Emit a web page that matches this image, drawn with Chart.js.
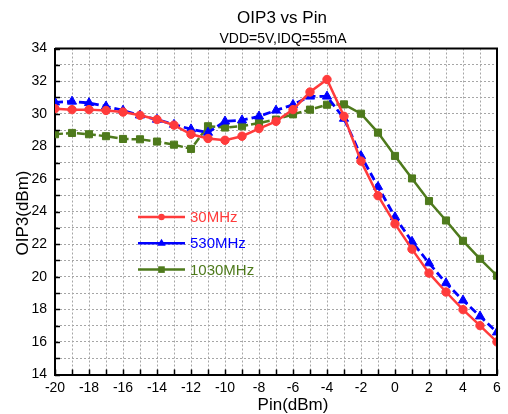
<!DOCTYPE html>
<html><head><meta charset="utf-8">
<script src="https://cdn.jsdelivr.net/npm/chart.js@4.4.0/dist/chart.umd.min.js"></script>
<style>html,body{margin:0;padding:0;background:#fff}#wrap{width:508px;height:414px}</style>
</head><body><div id="wrap"><canvas id="c" width="508" height="414"></canvas></div>
<script>
// ---- data ----
const pin = [-20,-19,-18,-17,-16,-15,-14,-13,-12,-11,-10,-9,-8,-7,-6,-5,-4,-3,-2,-1,0,1,2,3,4,5,6];
const oip3_30MHz = [30.31,30.25,30.25,30.2,30.1,29.9,29.64,29.3,28.74,28.48,28.37,28.62,29.09,29.53,30.25,31.33,32.1,29.84,27.09,24.97,23.24,21.69,20.22,19.06,17.98,17.0,16.0];
const oip3_530MHz = [30.7,30.75,30.66,30.45,30.2,29.9,29.64,29.33,29.05,28.84,29.53,29.6,29.84,30.2,30.55,31.06,31.06,29.7,27.41,25.52,23.66,22.15,20.83,19.61,18.55,17.57,16.59];
const oip3_1030MHz = [28.74,28.82,28.74,28.62,28.45,28.43,28.29,28.1,27.84,29.23,29.15,29.23,29.43,29.64,29.96,30.25,30.55,30.57,30.0,28.84,27.41,26.03,24.64,23.45,22.2,21.1,20.06];
const seriesNames = ['30MHz','530MHz','1030MHz'];
const titleText = 'OIP3 vs Pin';
const subtitleText = 'VDD=5V,IDQ=55mA';
const xTitle = 'Pin(dBm)';
const yTitle = 'OIP3(dBm)';

const FONT = '"Liberation Sans", Arial, sans-serif';
Chart.defaults.font.family = FONT;
Chart.defaults.color = '#000';

const RED = '#ff3b3b', BLUE = '#0000ff', GREEN = '#4e7a1c';
const toXY = arr => pin.map((x, i) => ({x: x, y: arr[i]}));

const frameTicks = {
  id: 'frameTicks',
  afterDraw(chart) {
    const {ctx, chartArea: a, scales} = chart;
    ctx.save();
    ctx.strokeStyle = '#000';
    ctx.lineWidth = 1.5;
    ctx.beginPath();
    for (let v = scales.x.min; v <= scales.x.max; v++) {
      const px = Math.round(scales.x.getPixelForValue(v)) + 0.5;
      ctx.moveTo(px, a.bottom); ctx.lineTo(px, a.bottom - 5);
    }
    for (let v = scales.y.min; v <= scales.y.max; v++) {
      const py = Math.round(scales.y.getPixelForValue(v)) + 0.5;
      ctx.moveTo(a.left, py); ctx.lineTo(a.left + 5, py);
    }
    ctx.stroke();
    ctx.lineWidth = 2;
    ctx.beginPath();
    ctx.moveTo(a.left, a.top); ctx.lineTo(a.right, a.top); ctx.lineTo(a.right, a.bottom);
    ctx.stroke();
    ctx.restore();
  }
};

const texts = {
  id: 'texts',
  afterDraw(chart) {
    const {ctx} = chart;
    ctx.save();
    ctx.fillStyle = '#000';
    ctx.textAlign = 'center';
    ctx.textBaseline = 'middle';
    ctx.font = '17px ' + FONT;
    ctx.fillText(titleText, 282, 18);
    ctx.font = '14px ' + FONT;
    ctx.fillText(subtitleText, 283, 39);
    ctx.font = '17px ' + FONT;
    ctx.fillText(xTitle, 293, 405);
    ctx.translate(23, 213);
    ctx.rotate(-Math.PI / 2);
    ctx.fillText(yTitle, 0, 0);
    ctx.restore();
  }
};

const legend = {
  id: 'insideLegend',
  afterDraw(chart) {
    const {ctx} = chart;
    const x0 = 138, x1 = 185, xm = 161.5, tx = 190, y0 = 217, dy = 26.3;
    chart.data.datasets.forEach((ds, i) => {
      const y = y0 + i * dy;
      ctx.save();
      ctx.strokeStyle = ds.borderColor;
      ctx.fillStyle = ds.borderColor;
      ctx.lineWidth = 2.5;
      ctx.beginPath(); ctx.moveTo(x0, y); ctx.lineTo(x1, y); ctx.stroke();
      ctx.beginPath();
      if (ds.pointStyle === 'circle') {
        ctx.arc(xm, y, 3.2, 0, Math.PI * 2);
      } else if (ds.pointStyle === 'triangle') {
        ctx.moveTo(xm, y - 4.5); ctx.lineTo(xm + 4.2, y + 2.5); ctx.lineTo(xm - 4.2, y + 2.5); ctx.closePath();
      } else {
        ctx.rect(xm - 3.3, y - 3.3, 6.6, 6.6);
      }
      ctx.fill();
      ctx.font = '15px ' + FONT;
      ctx.textAlign = 'left';
      ctx.textBaseline = 'middle';
      ctx.fillText(seriesNames[i], tx, y + 1);
      ctx.restore();
    });
  }
};

new Chart(document.getElementById('c'), {
  type: 'line',
  data: {
    datasets: [
      {label: seriesNames[0], data: toXY(oip3_30MHz), borderColor: RED, backgroundColor: RED,
       borderWidth: 2.5, pointStyle: 'circle', pointRadius: 4.2, pointBorderWidth: 1, tension: 0},
      {label: seriesNames[1], data: toXY(oip3_530MHz), borderColor: BLUE, backgroundColor: BLUE,
       borderWidth: 2.8, borderDash: [8, 4], pointStyle: 'triangle', pointRadius: 5.3, pointBorderWidth: 1, tension: 0},
      {label: seriesNames[2], data: toXY(oip3_1030MHz), borderColor: GREEN, backgroundColor: GREEN,
       borderWidth: 2.5, pointStyle: 'rect', pointRadius: 5.0, pointBorderWidth: 1, tension: 0,
       segment: {borderDash: c => (c.p0.parsed.x < -3 ? [8, 3] : [])}}
    ]
  },
  options: {
    responsive: false,
    animation: false,
    devicePixelRatio: 1,
    layout: {padding: {top: 48.5, right: 11, left: 0, bottom: 0}},
    plugins: {legend: {display: false}, title: {display: false}, tooltip: {enabled: false}},
    scales: {
      x: {
        type: 'linear', min: -20, max: 6,
        ticks: {stepSize: 1, autoSkip: false, maxRotation: 0, padding: 5,
                font: {size: 14}, color: '#000',
                callback: v => (v % 2 === 0 ? String(v) : '')},
        grid: {color: '#a6a6a6', lineWidth: 1, drawTicks: false},
        border: {display: true, color: '#000', width: 2, dash: [2, 2]},
        afterFit: s => { s.height = 39.5; }
      },
      y: {
        min: 14, max: 34,
        ticks: {stepSize: 1, autoSkip: false, padding: 8,
                font: {size: 14}, color: '#000',
                callback: v => (v % 2 === 0 ? String(v) : '')},
        grid: {color: '#a6a6a6', lineWidth: 1, drawTicks: false},
        border: {display: true, color: '#000', width: 2, dash: [2, 2]},
        afterFit: s => { s.width = 55; }
      }
    }
  },
  plugins: [frameTicks, texts, legend]
});
</script>
</body></html>
